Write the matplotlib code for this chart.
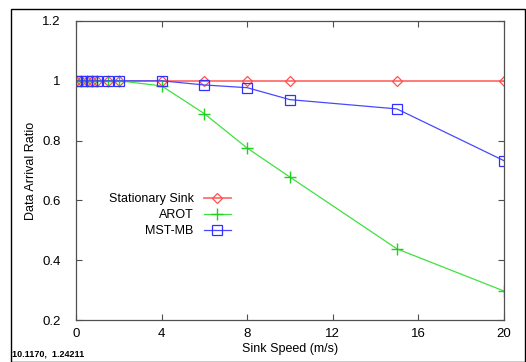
#!/usr/bin/env python3
"""Data arrival ratio vs. sink speed (gnuplot-style screenshot)."""

import matplotlib

matplotlib.use("Agg")
import matplotlib.pyplot as plt
from matplotlib.patches import Rectangle

plt.rcParams["font.family"] = ["Liberation Sans", "DejaVu Sans"]

speed = [0, 0.25, 0.5, 0.75, 1, 1.5, 2, 4, 6, 8, 10, 15, 20]
stationary = [1, 1, 1, 1, 1, 1, 1, 1, 1, 1, 1, 1, 1]
arot = [1, 1, 1, 1, 1, 1, 1, 0.983, 0.890, 0.775, 0.678, 0.438, 0.297]
mst_mb = [1, 1, 1, 1, 1, 1, 1, 1, 0.986, 0.977, 0.937, 0.906, 0.733]

xticks = [0, 4, 8, 12, 16, 20]
yticks = [0.2, 0.4, 0.6, 0.8, 1.0, 1.2]
ytick_labels = ["0.2", "0.4", "0.6", "0.8", "1", "1.2"]


def main():
    W, H = 526, 362
    fig = plt.figure(figsize=(W / 100, H / 100), dpi=100)
    ax = fig.add_axes([0.1445, 0.116, 0.8135, 0.826])

    ax.plot(speed, stationary, color="#ff7070", lw=1.3, marker="D", ms=5,
            mfc="none", mec="#ff5050", mew=0.9, label="Stationary Sink")
    ax.plot(speed, arot, color="#40e040", lw=0.9, marker="+", ms=8,
            mec="#20d020", mew=1.0, label="AROT")
    ax.plot(speed, mst_mb, color="#4848ff", lw=0.9, marker="s", ms=7,
            mfc="none", mec="#3030ff", mew=0.9, label="MST-MB")

    ax.set_xlim(0, 20)
    ax.set_ylim(0.2, 1.2)
    ax.set_xticks(xticks)
    ax.set_yticks(yticks)
    ax.set_yticklabels(ytick_labels)
    ax.tick_params(direction="in", length=4, width=0.8, color="#505050",
                   top=True, right=True, labelsize=9.5)
    ax.tick_params(axis="y", pad=11)
    ax.tick_params(axis="x", pad=6)
    for sp in ax.spines.values():
        sp.set_color("#505050")
        sp.set_linewidth(0.9)

    ax.set_xlabel("Sink Speed (m/s)", fontsize=9, labelpad=2)
    ax.set_ylabel("Data Arrival Ratio", fontsize=9, labelpad=4)

    ax.legend(loc="center left", bbox_to_anchor=(0.05, 0.35), frameon=False,
              markerfirst=False, fontsize=9, handlelength=2.2,
              handletextpad=0.8, labelspacing=0.32)

    fig.text(12 / W, 6 / H, "10.1170,  1.24211", fontsize=6.5, fontweight="bold")
    fig.patches.append(Rectangle((10.5 / W, 0.5 / H), 514 / W, 353 / H,
                                 transform=fig.transFigure,
                                 fill=False, lw=1, ec="black"))

    fig.savefig("out.png", dpi=100)
    plt.close(fig)


if __name__ == "__main__":
    main()
